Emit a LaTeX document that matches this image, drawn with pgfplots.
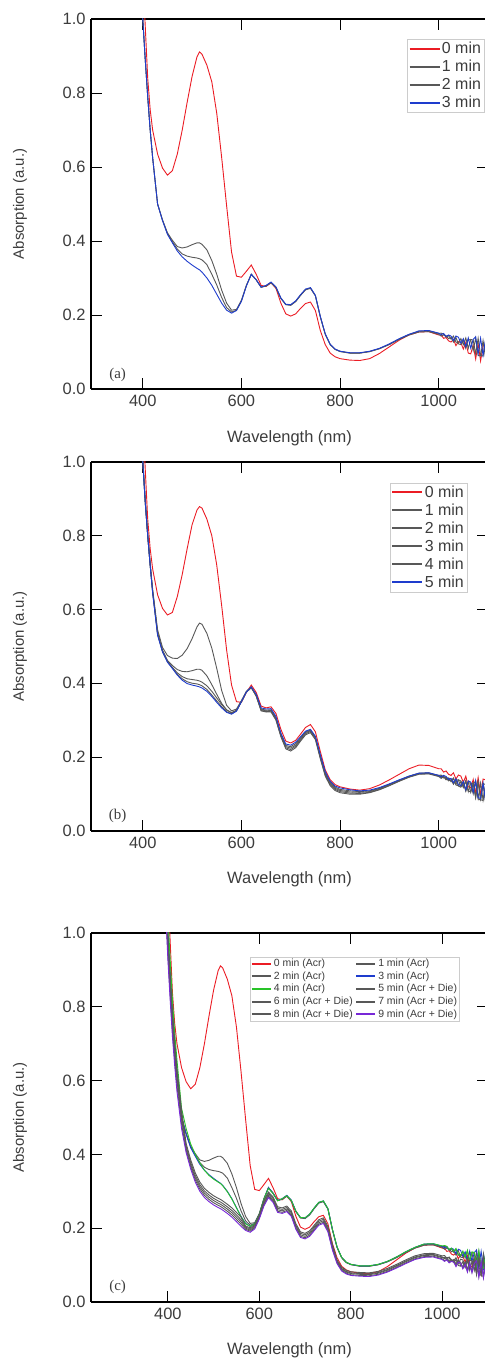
\documentclass[border=0pt]{standalone}
\usepackage{fontspec}
\setmainfont{Liberation Sans}
\newfontfamily\seriffont{Liberation Serif}
\usepackage{pgfplots}
\usepackage{pgfplotstable}
\pgfplotsset{compat=1.18}

\definecolor{cred}{RGB}{235,28,36}
\definecolor{cgray}{RGB}{88,88,88}
\definecolor{cblue}{RGB}{30,60,205}
\definecolor{cgreen}{RGB}{40,195,40}
\definecolor{cpurple}{RGB}{120,40,215}
\definecolor{ctext}{RGB}{60,60,60}
\newcommand{\lt}[1]{\textcolor{ctext}{#1}}

% Panel (a) and first four curves of panel (c)
\pgfplotstableread{
x r g1 g2 b
396 1.30 1.12 1.12 1.12
400 1.12 1.00 1.00 1.00
405 0.98 0.89 0.89 0.89
410 0.84 0.79 0.79 0.79
415 0.755 0.70 0.70 0.70
420 0.70 0.625 0.625 0.625
430 0.635 0.50 0.50 0.50
440 0.597 0.457 0.456 0.455
450 0.578 0.422 0.42 0.418
460 0.59 0.402 0.398 0.395
470 0.635 0.385 0.378 0.373
480 0.70 0.381 0.365 0.357
490 0.775 0.384 0.359 0.345
500 0.845 0.39 0.356 0.335
510 0.898 0.395 0.354 0.326
515 0.911 0.395 0.352 0.322
520 0.905 0.391 0.349 0.316
530 0.875 0.376 0.336 0.30
540 0.83 0.347 0.31 0.28
550 0.745 0.31 0.281 0.256
560 0.625 0.267 0.247 0.232
570 0.495 0.232 0.22 0.213
580 0.37 0.213 0.208 0.205
590 0.305 0.215 0.213 0.212
600 0.302 0.24 0.238 0.237
610 0.318 0.28 0.279 0.278
620 0.335 0.31 0.31 0.31
630 0.31 0.295 0.295 0.295
640 0.28 0.275 0.275 0.275
650 0.277 0.278 0.279 0.28
660 0.287 0.287 0.288 0.289
670 0.272 0.274 0.275 0.276
680 0.232 0.245 0.245 0.246
690 0.203 0.228 0.228 0.229
700 0.197 0.226 0.227 0.228
710 0.203 0.236 0.237 0.238
720 0.218 0.253 0.254 0.255
730 0.231 0.268 0.269 0.27
740 0.235 0.272 0.273 0.274
750 0.212 0.252 0.252 0.253
760 0.158 0.195 0.195 0.196
770 0.12 0.148 0.148 0.149
780 0.097 0.12 0.12 0.121
790 0.087 0.107 0.107 0.108
800 0.082 0.101 0.102 0.102
820 0.078 0.097 0.097 0.098
840 0.077 0.097 0.097 0.098
860 0.082 0.101 0.101 0.102
880 0.096 0.109 0.109 0.11
900 0.114 0.12 0.121 0.122
920 0.132 0.134 0.135 0.136
940 0.146 0.146 0.147 0.148
960 0.154 0.154 0.156 0.157
980 0.155 0.155 0.157 0.158
1000 0.146 0.148 0.15 0.151
1005 0.146 0.143 0.151 0.147
1010 0.137 0.146 0.148 0.150
1015 0.139 0.144 0.140 0.142
1020 0.130 0.136 0.144 0.146
1025 0.127 0.139 0.135 0.143
1030 0.134 0.127 0.143 0.131
1035 0.117 0.139 0.127 0.143
1040 0.128 0.122 0.124 0.140
1045 0.125 0.120 0.136 0.124
1050 0.108 0.132 0.120 0.136
1055 0.126 0.110 0.138 0.114
1060 0.097 0.134 0.110 0.138
1065 0.095 0.132 0.134 0.110
1070 0.118 0.104 0.132 0.134
1075 0.081 0.137 0.095 0.141
1080 0.122 0.091 0.137 0.095
1085 0.076 0.089 0.091 0.137
1090 0.118 0.131 0.089 0.091
1095 0.116 0.085 0.131 0.133
1100 0.070 0.127 0.085 0.087
}\tabA

% Panel (b)
\pgfplotstableread{
x r g1 g2 g3 g4 b
396 1.30 1.13 1.12 1.12 1.12 1.12
400 1.12 1.01 1.005 1.00 1.00 1.00
405 0.98 0.90 0.895 0.89 0.89 0.89
410 0.845 0.805 0.80 0.80 0.80 0.80
415 0.765 0.725 0.72 0.72 0.72 0.72
420 0.71 0.655 0.65 0.648 0.646 0.645
430 0.64 0.545 0.538 0.535 0.532 0.53
440 0.603 0.497 0.49 0.487 0.485 0.485
450 0.585 0.475 0.462 0.46 0.458 0.457
460 0.592 0.468 0.448 0.443 0.441 0.44
470 0.635 0.467 0.437 0.428 0.424 0.422
480 0.695 0.476 0.432 0.418 0.412 0.408
490 0.765 0.494 0.431 0.412 0.404 0.399
500 0.83 0.521 0.434 0.41 0.40 0.395
510 0.87 0.553 0.438 0.408 0.398 0.392
515 0.879 0.563 0.438 0.406 0.396 0.39
520 0.875 0.56 0.435 0.403 0.393 0.387
530 0.845 0.535 0.42 0.393 0.383 0.378
540 0.80 0.495 0.396 0.378 0.368 0.364
550 0.72 0.44 0.37 0.36 0.352 0.348
560 0.61 0.38 0.345 0.342 0.336 0.333
570 0.49 0.34 0.328 0.327 0.323 0.321
580 0.395 0.325 0.32 0.32 0.317 0.316
590 0.35 0.33 0.327 0.326 0.325 0.324
600 0.348 0.353 0.35 0.35 0.35 0.35
610 0.375 0.378 0.376 0.376 0.376 0.376
620 0.395 0.39 0.388 0.388 0.388 0.39
630 0.375 0.365 0.365 0.367 0.368 0.37
640 0.338 0.325 0.326 0.328 0.33 0.333
650 0.333 0.322 0.323 0.325 0.327 0.33
660 0.336 0.322 0.324 0.326 0.328 0.331
670 0.318 0.30 0.302 0.304 0.306 0.31
680 0.275 0.255 0.257 0.259 0.262 0.265
690 0.243 0.222 0.225 0.228 0.231 0.235
700 0.238 0.216 0.22 0.224 0.228 0.232
710 0.245 0.225 0.229 0.232 0.236 0.24
720 0.262 0.243 0.246 0.249 0.252 0.255
730 0.28 0.26 0.263 0.266 0.268 0.27
740 0.288 0.266 0.269 0.271 0.273 0.275
750 0.268 0.247 0.25 0.252 0.254 0.256
760 0.215 0.195 0.198 0.20 0.203 0.206
770 0.165 0.148 0.151 0.154 0.157 0.16
780 0.138 0.122 0.125 0.128 0.131 0.134
790 0.125 0.109 0.112 0.115 0.118 0.121
800 0.119 0.103 0.106 0.109 0.112 0.116
820 0.113 0.099 0.102 0.105 0.108 0.111
840 0.11 0.099 0.101 0.104 0.106 0.108
860 0.114 0.103 0.104 0.106 0.108 0.11
880 0.124 0.111 0.112 0.114 0.115 0.117
900 0.138 0.122 0.123 0.125 0.126 0.127
920 0.153 0.134 0.135 0.136 0.137 0.138
940 0.168 0.145 0.146 0.147 0.148 0.148
960 0.178 0.153 0.154 0.155 0.156 0.156
980 0.177 0.154 0.155 0.156 0.157 0.157
1000 0.168 0.147 0.148 0.149 0.15 0.15
1005 0.168 0.142 0.149 0.144 0.151 0.146
1010 0.159 0.146 0.147 0.148 0.143 0.150
1015 0.162 0.143 0.138 0.139 0.146 0.147
1020 0.153 0.135 0.142 0.143 0.138 0.139
1025 0.150 0.138 0.133 0.140 0.135 0.142
1030 0.157 0.126 0.141 0.128 0.143 0.130
1035 0.140 0.137 0.124 0.139 0.126 0.141
1040 0.151 0.121 0.122 0.137 0.138 0.125
1045 0.148 0.118 0.133 0.120 0.135 0.122
1050 0.131 0.130 0.117 0.132 0.119 0.134
1055 0.148 0.107 0.134 0.109 0.136 0.111
1060 0.119 0.131 0.106 0.133 0.108 0.135
1065 0.116 0.128 0.129 0.104 0.105 0.132
1070 0.139 0.100 0.127 0.128 0.129 0.104
1075 0.102 0.132 0.089 0.134 0.091 0.136
1080 0.144 0.086 0.131 0.088 0.133 0.090
1085 0.098 0.083 0.084 0.129 0.086 0.087
1090 0.140 0.125 0.082 0.083 0.128 0.129
1095 0.138 0.078 0.123 0.124 0.125 0.082
1100 0.092 0.120 0.077 0.078 0.079 0.124
}\tabB

% Panel (c): remaining curves
\pgfplotstableread{
x gr g5 g6 g7 g8 p
396 1.18 1.10 1.085 1.07 1.055 1.04
400 1.05 0.99 0.975 0.96 0.945 0.93
405 0.93 0.88 0.865 0.85 0.835 0.82
410 0.82 0.78 0.765 0.75 0.735 0.72
415 0.73 0.70 0.685 0.67 0.655 0.64
420 0.655 0.63 0.615 0.60 0.585 0.57
430 0.525 0.52 0.508 0.495 0.482 0.47
440 0.47 0.43 0.423 0.417 0.411 0.405
450 0.428 0.385 0.378 0.372 0.366 0.36
460 0.40 0.35 0.343 0.337 0.331 0.325
470 0.377 0.325 0.318 0.312 0.306 0.30
480 0.357 0.308 0.301 0.295 0.289 0.283
490 0.343 0.297 0.29 0.284 0.278 0.272
500 0.333 0.288 0.281 0.275 0.269 0.263
510 0.325 0.281 0.274 0.268 0.262 0.256
515 0.321 0.278 0.271 0.265 0.259 0.253
520 0.315 0.274 0.267 0.261 0.255 0.249
530 0.299 0.265 0.258 0.252 0.246 0.24
540 0.279 0.255 0.248 0.242 0.236 0.23
550 0.255 0.243 0.236 0.23 0.224 0.218
560 0.231 0.23 0.223 0.217 0.211 0.205
570 0.212 0.206 0.203 0.20 0.197 0.194
580 0.205 0.201 0.198 0.195 0.192 0.189
590 0.212 0.21 0.207 0.204 0.201 0.198
600 0.238 0.237 0.234 0.231 0.228 0.225
610 0.279 0.275 0.271 0.267 0.263 0.26
620 0.308 0.298 0.294 0.29 0.286 0.283
630 0.294 0.285 0.281 0.277 0.273 0.27
640 0.274 0.258 0.254 0.25 0.246 0.243
650 0.28 0.255 0.251 0.247 0.243 0.24
660 0.288 0.26 0.256 0.252 0.248 0.245
670 0.275 0.247 0.243 0.239 0.235 0.232
680 0.246 0.212 0.208 0.204 0.20 0.197
690 0.229 0.19 0.186 0.182 0.178 0.175
700 0.228 0.186 0.182 0.178 0.174 0.171
710 0.238 0.193 0.189 0.185 0.181 0.178
720 0.255 0.208 0.204 0.20 0.196 0.193
730 0.27 0.223 0.219 0.215 0.211 0.208
740 0.274 0.228 0.224 0.22 0.216 0.213
750 0.253 0.205 0.201 0.197 0.193 0.19
760 0.196 0.155 0.151 0.147 0.143 0.14
770 0.149 0.114 0.111 0.109 0.106 0.104
780 0.121 0.094 0.091 0.089 0.086 0.084
790 0.108 0.086 0.083 0.081 0.078 0.076
800 0.102 0.082 0.079 0.077 0.074 0.072
820 0.098 0.08 0.077 0.075 0.072 0.07
840 0.098 0.079 0.076 0.074 0.071 0.069
860 0.102 0.083 0.08 0.078 0.075 0.073
880 0.11 0.091 0.088 0.086 0.083 0.081
900 0.122 0.102 0.099 0.097 0.094 0.092
920 0.136 0.114 0.111 0.109 0.106 0.104
940 0.148 0.125 0.122 0.12 0.117 0.115
960 0.157 0.131 0.128 0.126 0.123 0.121
980 0.158 0.132 0.129 0.127 0.124 0.122
1000 0.152 0.125 0.122 0.12 0.117 0.115
1005 0.153 0.126 0.117 0.121 0.112 0.110
1010 0.151 0.118 0.121 0.119 0.116 0.114
1015 0.142 0.122 0.119 0.111 0.108 0.106
1020 0.146 0.114 0.111 0.115 0.112 0.110
1025 0.137 0.112 0.115 0.107 0.110 0.108
1030 0.145 0.120 0.103 0.115 0.098 0.096
1035 0.129 0.104 0.115 0.099 0.110 0.108
1040 0.126 0.116 0.099 0.097 0.108 0.106
1045 0.138 0.114 0.097 0.109 0.092 0.090
1050 0.122 0.098 0.109 0.093 0.104 0.102
1055 0.140 0.117 0.088 0.112 0.083 0.081
1060 0.112 0.090 0.113 0.085 0.108 0.106
1065 0.136 0.089 0.112 0.110 0.081 0.079
1070 0.134 0.114 0.085 0.109 0.106 0.104
1075 0.097 0.078 0.119 0.073 0.114 0.112
1080 0.139 0.121 0.074 0.116 0.069 0.067
1085 0.093 0.076 0.073 0.071 0.112 0.110
1090 0.091 0.119 0.116 0.070 0.067 0.065
1095 0.133 0.118 0.071 0.113 0.110 0.108
1100 0.087 0.073 0.114 0.068 0.065 0.063
}\tabC

\pgfplotsset{
  spec/.style={
    scale only axis, width=397bp,
    ymin=0, ymax=1, xmax=1100,
    separate axis lines,
    x axis line style={line width=1.8bp},
    y axis line style={line width=1.1bp},
    ytick={0,0.2,0.4,0.6,0.8,1.0},
    xtick={400,600,800,1000},
    tick align=inside,
    major tick length=11bp,
    minor tick num=0,
    tick style={black, line width=0.9bp},
    /pgf/number format/assume math mode=true,
    yticklabel style={/pgf/number format/fixed, /pgf/number format/fixed zerofill, /pgf/number format/precision=1, xshift=-2bp},
    xticklabel style={/pgf/number format/1000 sep={}, yshift=-3bp},
    ticklabel style={font=\fontsize{16.5}{16.5}\selectfont, text=ctext},
    label style={font=\fontsize{16.5}{16.5}\selectfont, text=ctext},
    xlabel={Wavelength (nm)},
    ylabel={Absorption (a.u.)},
    xlabel style={at={(axis description cs:0.5,-0.132)}, anchor=center},
    ylabel style={at={(axis description cs:-0.179,0.5)}, anchor=center, font=\fontsize{15}{15}\selectfont},
    legend cell align=left,
    legend image post style={line width=2bp},
    every axis plot/.append style={line width=0.9bp},
  },
  leg/.style={
    legend image code/.code={\draw[##1] (0bp,0bp) -- (30bp,0bp);},
    legend style={draw=black!20, fill=white, inner sep=1.5bp,
      font=\fontsize{16}{16}\selectfont,
      nodes={inner sep=1.4bp},
      row sep=2.2bp},
  },
}

\begin{document}
\begin{tikzpicture}
\useasboundingbox (0,0) rectangle (485bp,1359bp);

% ---------- Panel (a)
\begin{axis}[spec, leg, height=370bp, xmin=295,
  at={(91bp,970bp)}, anchor=south west,
  legend style={at={(rel axis cs:0.99,0.946)}, anchor=north east}]
\addplot[cred] table[x=x,y=r]{\tabA};
\addplot[cgray] table[x=x,y=g1]{\tabA};
\addplot[cgray] table[x=x,y=g2]{\tabA};
\addplot[cblue] table[x=x,y=b]{\tabA};
\legend{\lt{0 min},\lt{1 min},\lt{2 min},\lt{3 min}}
\node[font=\seriffont\fontsize{15}{15}\selectfont, text=ctext] at (axis description cs:0.067,0.039) {(a)};
\end{axis}

% ---------- Panel (b)
\begin{axis}[spec, leg, height=368.7bp, xmin=295,
  at={(91bp,528.3bp)}, anchor=south west,
  legend style={at={(rel axis cs:0.947,0.944)}, anchor=north east}]
\addplot[cred] table[x=x,y=r]{\tabB};
\addplot[cgray] table[x=x,y=g1]{\tabB};
\addplot[cgray] table[x=x,y=g2]{\tabB};
\addplot[cgray] table[x=x,y=g3]{\tabB};
\addplot[cgray] table[x=x,y=g4]{\tabB};
\addplot[cblue] table[x=x,y=b]{\tabB};
\legend{\lt{0 min},\lt{1 min},\lt{2 min},\lt{3 min},\lt{4 min},\lt{5 min}}
\node[font=\seriffont\fontsize{15}{15}\selectfont, text=ctext] at (axis description cs:0.067,0.039) {(b)};
\end{axis}

% ---------- Panel (c)
\begin{axis}[spec, height=369bp, xmin=232,
  at={(91bp,57bp)}, anchor=south west,
  legend columns=2,
  legend image code/.code={\draw[#1] (0bp,0bp) -- (19bp,0bp);},
  legend style={at={(rel axis cs:0.928,0.936)}, anchor=north east,
    draw=black!20, fill=white, inner sep=1.2bp,
    font=\fontsize{10.5}{10.5}\selectfont,
    nodes={inner sep=1bp},
    row sep=1.6bp,
    /tikz/every odd column/.append style={column sep=1bp},
    /tikz/every even column/.append style={column sep=1.5bp}}]
\addplot[cred] table[x=x,y=r]{\tabA};
\addplot[cgray] table[x=x,y=g1]{\tabA};
\addplot[cgray] table[x=x,y=g2]{\tabA};
\addplot[cblue] table[x=x,y=b]{\tabA};
\addplot[cgreen] table[x=x,y=gr]{\tabC};
\addplot[cgray] table[x=x,y=g5]{\tabC};
\addplot[cgray] table[x=x,y=g6]{\tabC};
\addplot[cgray] table[x=x,y=g7]{\tabC};
\addplot[cgray] table[x=x,y=g8]{\tabC};
\addplot[cpurple] table[x=x,y=p]{\tabC};
\legend{\lt{0 min (Acr)},\lt{1 min (Acr)},\lt{2 min (Acr)},\lt{3 min (Acr)},\lt{4 min (Acr)},\lt{5 min (Acr + Die)},\lt{6 min (Acr + Die)},\lt{7 min (Acr + Die)},\lt{8 min (Acr + Die)},\lt{9 min (Acr + Die)}}
\node[font=\seriffont\fontsize{15}{15}\selectfont, text=ctext] at (axis description cs:0.067,0.04) {(c)};
\end{axis}
\end{tikzpicture}
\end{document}
